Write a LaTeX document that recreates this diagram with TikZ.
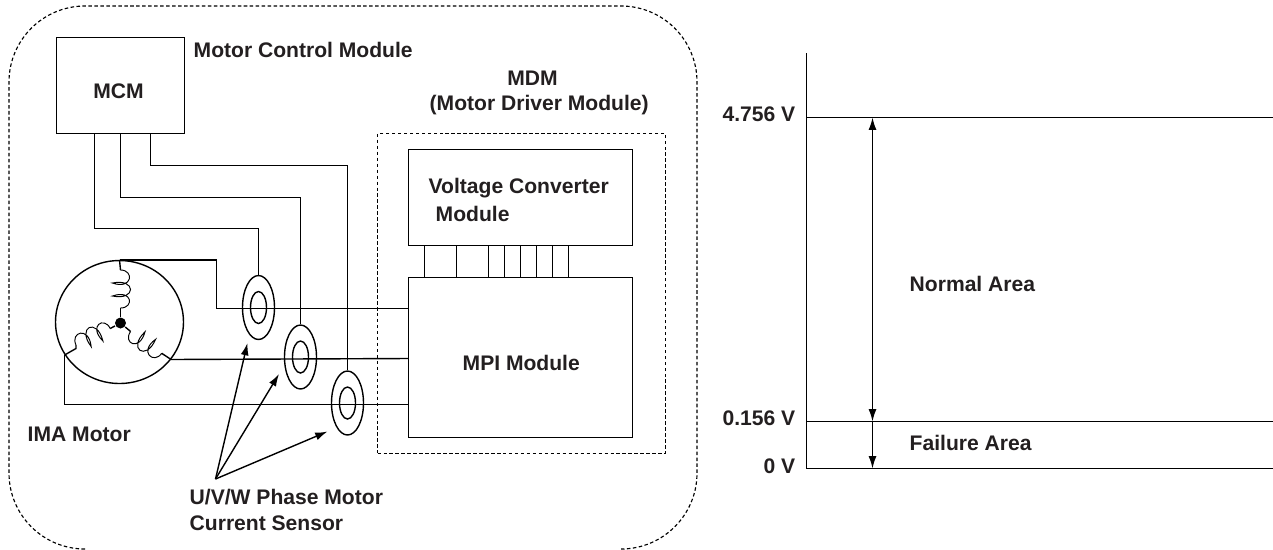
\documentclass[tikz,border=0pt]{standalone}
\usepackage{fontspec}
\setmainfont{Liberation Sans}
\usetikzlibrary{arrows.meta,shapes.geometric}

\definecolor{inkdark}{HTML}{231F20}
\tikzset{
  lbl/.style = {anchor=west, inner sep=0pt, text=inkdark, font=\fontsize{12}{14}\selectfont\bfseries},
  modbox/.style = {draw, rectangle, inner sep=0pt},
  sensor/.style = {draw, ellipse, inner sep=0pt, minimum width=0.64cm, minimum height=1.28cm},
  sensorin/.style = {draw, ellipse, inner sep=0pt, minimum width=0.32cm, minimum height=0.64cm},
  finedash/.style = {line width=0.65pt, dash pattern=on 2pt off 1.4pt},
  scaleline/.style = {line width=1pt},
  tip/.style = {-{Latex[length=7pt,width=4.5pt]}},
  tips/.style = {{Latex[length=7pt,width=4.5pt]}-{Latex[length=7pt,width=4.5pt]}},
  winding/.pic = {
    \draw[line width=0.55pt] (0,0) .. controls (0,-14) and (20,-12) .. (13,8)
      .. controls (8,-16) and (31,-16) .. (26,8)
      .. controls (19,-12) and (38,-14) .. (38,0);
  }
}

\begin{document}
\begin{tikzpicture}[x=0.02cm, y=-0.02cm, line width=0.8pt]
  \useasboundingbox (0,0) rectangle (1273,549);

  % outer housing, open at the bottom
  \draw[finedash, rounded corners=1.52cm] (85,549) -- (9,549) -- (9,6) -- (697,6) -- (697,549) -- (621,549);

  \node[modbox, minimum width=2.56cm, minimum height=1.92cm] (mcm) at (120.5,85.5) {};
  \node[lbl, anchor=center] (mcmtxt) at (118.5,91) {MCM};
  \node[lbl] (mcmname) at (193,50) {Motor Control Module};

  \node[finedash, draw, minimum width=5.76cm, minimum height=6.4cm, inner sep=0pt] (mdm) at (521.5,293.5) {};
  \node[lbl, anchor=center] (mdmtxt) at (532.5,78) {MDM};
  \node[lbl] (mdmname) at (429,105) {(Motor Driver Module)};

  \node[modbox, minimum width=4.48cm, minimum height=1.92cm] (vcm) at (520.5,197.5) {};
  \node[lbl] (vcmtxt) at (428,188) {Voltage Converter};
  \node[lbl] (vcmtxtb) at (435,214) {Module};

  \node[modbox, minimum width=4.48cm, minimum height=3.2cm] (mpi) at (520.5,357.5) {};
  \node[lbl] (mpitxt) at (462,363) {MPI Module};

  % bus between the two modules
  \foreach \busx in {424.5,456.5,488.5,504.5,520.5,536.5,552.5,568.5}
    \draw (vcm.south -| \busx,0) -- (mpi.north -| \busx,0);

  % motor
  \node[draw, ellipse, inner sep=0pt, minimum width=2.56cm, minimum height=2.46cm] (motor) at (119.5,322) {};
  \node[circle, fill=black, inner sep=0pt, minimum size=0.22cm] (hub) at (120.5,323) {};
  \pic[rotate=-90] at (120.5,270) {winding};
  \pic[rotate=145] at (161.7,353.3) {winding};
  \pic[rotate=25.7] at (76,345) {winding};
  \draw (motor.north) -- (120.5,270);
  \draw (120.5,308) -- (hub);
  \draw (motor.-36) -- (161.7,353.3);
  \draw (130.6,331.5) -- (hub);
  \draw (motor.211) -- (76,348.5) -- (76,345);
  \draw (110.2,328.5) -- (hub);
  \node[lbl] (motortxt) at (27,434) {IMA Motor};

  % current sensors
  \node[sensor] (senseu) at (258.5,307.5) {};
  \node[sensorin] (senseuin) at (258.5,307.5) {};
  \node[sensor] (sensev) at (300.5,357) {};
  \node[sensorin] (sensevin) at (300.5,357) {};
  \node[sensor] (sensew) at (347.5,403) {};
  \node[sensorin] (sensewin) at (347.5,403) {};

  % control wires
  \draw (mcm.south -| 94.5,0) -- (94.5,228.5) -| (senseu.north);
  \draw (mcm.south -| 120.5,0) -- (120.5,197.5) -| (sensev.north);
  \draw (mcm.south -| 150.5,0) -- (150.5,165.5) -| (sensew.north);

  % phase wires
  \draw (motor.north) -| (216.5,308.5) -- (mpi.west |- 0,308.5);
  \draw (motor.-36) -- (mpi.west |- 0,358.5);
  \draw (motor.211) |- (mpi.west |- 0,404.5);

  \coordinate (fan) at (215.5,479);
  \coordinate (fanu) at (247.5,343);
  \coordinate (fanv) at (279,374);
  \coordinate (fanw) at (327.5,431.5);
  \draw[tip] (fan) -- (fanu);
  \draw[tip] (fan) -- (fanv);
  \draw[tip] (fan) -- (fanw);
  \node[lbl] (fantxt) at (189,497) {U/V/W Phase Motor};
  \node[lbl] (fantxtb) at (189,523) {Current Sensor};

  % voltage scale
  \coordinate (axtop) at (806.5,53);
  \coordinate (axbot) at (806.5,469);
  \coordinate (high) at (806.5,117.5);
  \coordinate (low) at (806.5,421.5);
  \draw (axtop) -- (axbot);
  \draw[scaleline] (high) -- (1273,117.5);
  \draw[scaleline] (low) -- (1273,421.5);
  \draw[scaleline] (axbot |- 0,468.5) -- (1273,468.5);
  \draw[tips] (872.5,117.5) -- (872.5,421.5);
  \draw[tip] (872.5,421.5) -- (872.5,468.5);

  \node[lbl, anchor=east] (hightxt) at (796,114) {4.756 V};
  \node[lbl, anchor=east] (lowtxt) at (796,418) {0.156 V};
  \node[lbl, anchor=east] (zerotxt) at (796,466) {0 V};
  \node[lbl] (normtxt) at (909,284) {Normal Area};
  \node[lbl] (failtxt) at (909,443) {Failure Area};
\end{tikzpicture}
\end{document}
